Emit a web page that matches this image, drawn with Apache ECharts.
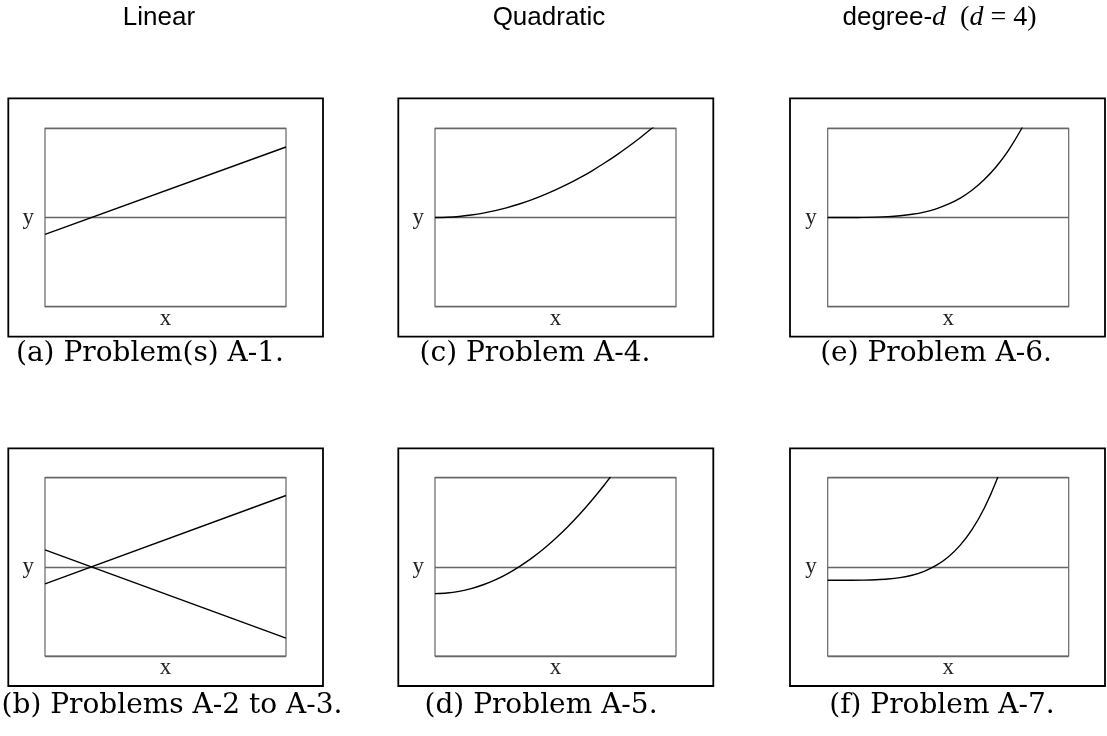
<!DOCTYPE html>
<html>
<head>
<meta charset="utf-8">
<script src="https://cdn.jsdelivr.net/npm/echarts@6/dist/echarts.min.js"></script>
<style>
  html, body { margin: 0; padding: 0; background: #fff; }
  #chart { width: 1107px; height: 736px; }
</style>
</head>
<body>
<div id="chart"></div>
<script>
// Column headings and panel captions
const headings = ['Linear', 'Quadratic', 'degree-d'];
const captions = ['(a) Problem(s) A-1.', '(b) Problems A-2 to A-3.',
                  '(c) Problem A-4.', '(d) Problem A-5.',
                  '(e) Problem A-6.', '(f) Problem A-7.'];

// Linear panels: straight lines sampled at both ends of x
const xLine = [0, 1];
const lineA  = [-0.19, 0.79];
const lineB1 = [-0.19, 0.80];
const lineB2 = [0.19, -0.80];

// Quadratic panels
const xQuad = [0, 0.05, 0.1, 0.15, 0.2, 0.25, 0.3, 0.35, 0.4, 0.45, 0.5,
               0.55, 0.6, 0.65, 0.7, 0.75, 0.8, 0.85, 0.9, 0.95];
const quadC = [0, 0.003, 0.012, 0.028, 0.049, 0.077, 0.111, 0.151, 0.197, 0.25, 0.309,
               0.373, 0.444, 0.521, 0.605, 0.694, 0.79, 0.892, 1.0, 1.114];
const quadD = [-0.30, -0.294, -0.275, -0.244, -0.201, -0.146, -0.078, 0.003, 0.095, 0.20, 0.318,
               0.447, 0.589, 0.744, 0.91, 1.089, 1.28, 1.48, 1.70, 1.93];

// Quartic panels
const xQuart = [0, 0.05, 0.1, 0.15, 0.2, 0.25, 0.3, 0.35, 0.4, 0.45, 0.5,
                0.55, 0.6, 0.65, 0.7, 0.75, 0.8, 0.85];
const quartE = [0, 0.00001, 0.0002, 0.0012, 0.0038, 0.0093, 0.0193, 0.0357, 0.0609, 0.0976, 0.149,
                0.218, 0.308, 0.425, 0.571, 0.753, 0.975, 1.242];
const quartF = [-0.150, -0.150, -0.150, -0.149, -0.145, -0.137, -0.121, -0.094, -0.050, 0.016, 0.111,
                0.244, 0.423, 0.66, 0.966, 1.354, 1.80, 2.30];

const pairs = (xs, ys) => xs.map((x, i) => [x, ys[i]]);

// Panel geometry (pixels)
const colInner = [45, 435, 827.7];
const colOuter = [[8.3, 323], [398.3, 713.3], [790, 1105]];
const innerW = 241;
const rowInner = [[128.3, 306.7], [477.7, 656]];
const rowOuter = [[98.3, 336.7], [448.3, 686]];
const captionCx = [[150, 172], [535, 541], [936, 942]];
const captionCy = [354, 706];

// Panels in column-major order: (a),(b),(c),(d),(e),(f)
const panelSeries = [
  [pairs(xLine, lineA)],
  [pairs(xLine, lineB1), pairs(xLine, lineB2)],
  [pairs(xQuad, quadC)],
  [pairs(xQuad, quadD)],
  [pairs(xQuart, quartE)],
  [pairs(xQuart, quartF)]
];

const grids = [], xAxes = [], yAxes = [], series = [], graphics = [];
// slab-serif look for the axis letters
const axisLetterFont = '23px "Liberation Serif", "DejaVu Serif", serif';

for (let c = 0; c < 3; c++) {
  for (let r = 0; r < 2; r++) {
    const idx = c * 2 + r;
    const top = rowInner[r][0], bottom = rowInner[r][1];
    grids.push({
      left: colInner[c], top: top,
      width: innerW, height: bottom - top,
      show: true, borderColor: '#666', borderWidth: 1.2, backgroundColor: 'transparent'
    });
    xAxes.push({
      gridIndex: idx, type: 'value', min: 0, max: 1,
      axisLine: { show: false, onZero: false }, axisTick: { show: false },
      axisLabel: { show: false }, splitLine: { show: false }
    });
    yAxes.push({
      gridIndex: idx, type: 'value', min: -1, max: 1, interval: 1,
      axisLine: { show: false }, axisTick: { show: false },
      axisLabel: { show: false },
      splitLine: { show: true, lineStyle: { color: '#666', width: 1.3 } }
    });
    panelSeries[idx].forEach(d => {
      series.push({
        type: 'line', xAxisIndex: idx, yAxisIndex: idx, data: d,
        showSymbol: false, smooth: 0.3, clip: true, silent: true,
        lineStyle: { color: '#000', width: 1.4 }
      });
    });
    // axis letters
    graphics.push({
      type: 'text', silent: true,
      style: { x: colInner[c] + innerW / 2, y: bottom + 12, text: 'x', font: axisLetterFont,
               fill: '#222', align: 'center', verticalAlign: 'middle' }
    });
    graphics.push({
      type: 'text', silent: true,
      style: { x: colInner[c] - 11, y: (top + bottom) / 2, text: 'y', font: axisLetterFont,
               fill: '#222', align: 'right', verticalAlign: 'middle' }
    });
    graphics.push({
      type: 'rect', silent: true,
      shape: { x: colOuter[c][0], y: rowOuter[r][0],
               width: colOuter[c][1] - colOuter[c][0], height: rowOuter[r][1] - rowOuter[r][0] },
      style: { fill: 'none', stroke: '#000', lineWidth: 1.8 }
    });
    graphics.push({
      type: 'text', silent: true,
      style: { x: captionCx[c][r], y: captionCy[r], text: captions[idx],
               font: '28px "DejaVu Serif", serif', fill: '#000',
               align: 'center', verticalAlign: 'middle' }
    });
  }
}

// Column headings
const headX = [159, 549, 939.5];
const sansFont = '26px "Liberation Sans", Arial, sans-serif';
graphics.push({
  type: 'text', silent: true,
  style: { x: headX[0], y: 18, text: headings[0], font: sansFont,
           fill: '#000', align: 'center', verticalAlign: 'middle' }
});
graphics.push({
  type: 'text', silent: true,
  style: { x: headX[1], y: 18, text: headings[1], font: sansFont,
           fill: '#000', align: 'center', verticalAlign: 'middle' }
});
graphics.push({
  type: 'text', silent: true,
  style: {
    x: headX[2], y: 18, align: 'center', verticalAlign: 'middle',
    text: '{s|degree-}{i|d}{r|  (}{i|d}{r| = 4)}',
    rich: {
      s: { font: sansFont, fill: '#000' },
      i: { font: 'italic 28px "Liberation Serif", serif', fill: '#000' },
      r: { font: '28px "Liberation Serif", serif', fill: '#000' }
    }
  }
});

const chart = echarts.init(document.getElementById('chart'), null, { renderer: 'canvas' });
chart.setOption({
  animation: false,
  backgroundColor: '#fff',
  grid: grids,
  xAxis: xAxes,
  yAxis: yAxes,
  series: series,
  graphic: graphics
});
</script>
</body>
</html>
